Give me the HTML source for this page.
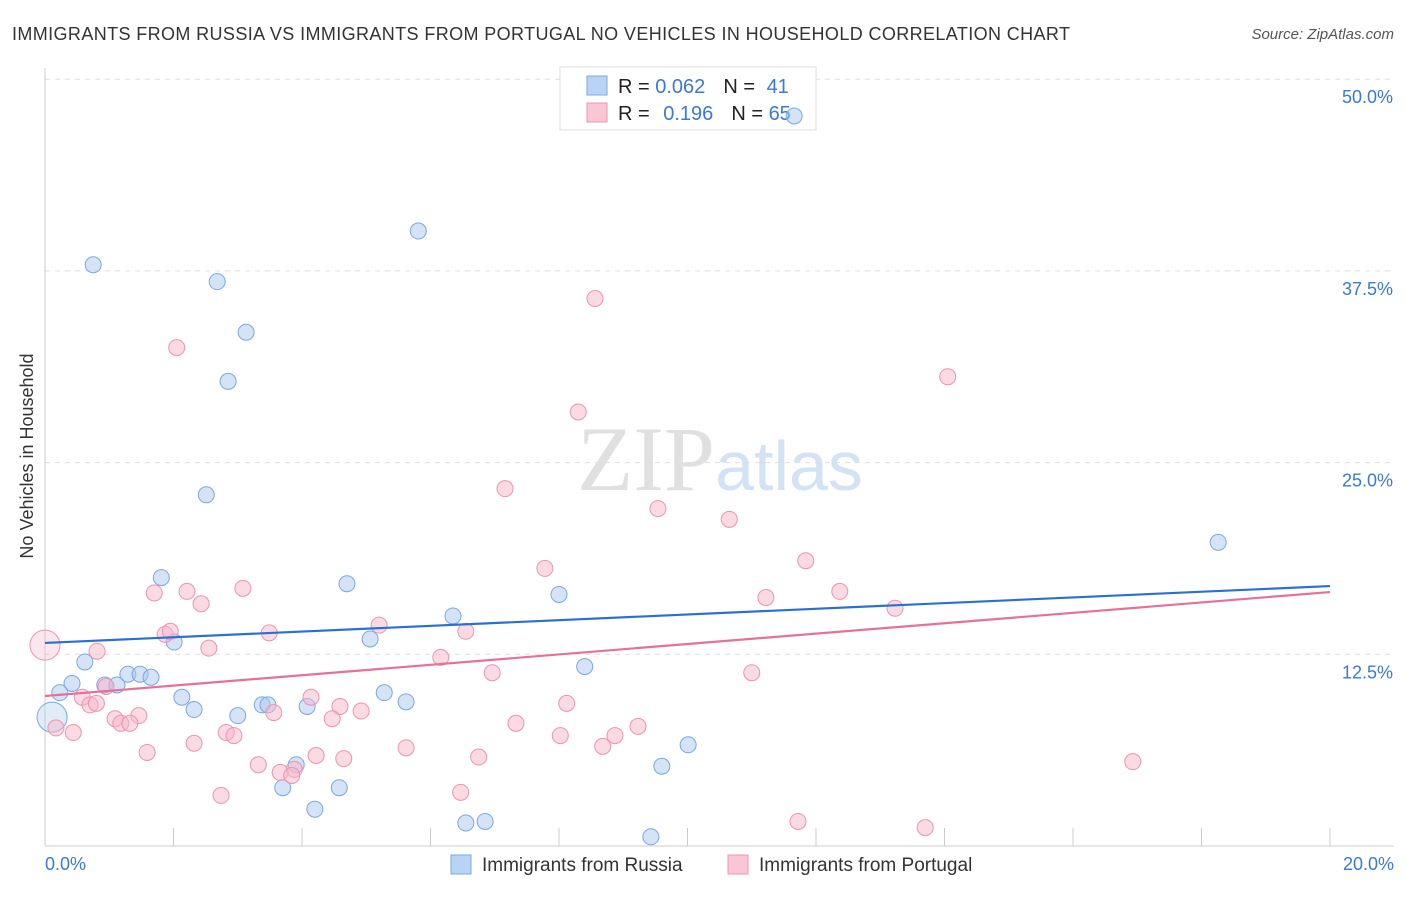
<!DOCTYPE html>
<html><head><meta charset="utf-8"><style>
body{margin:0;background:#fff;font-family:"Liberation Sans",sans-serif;}
svg text{font-family:"Liberation Sans",sans-serif;}
</style></head><body>
<svg id="c" width="1406" height="892">
<text x="12" y="40" font-size="18" fill="#333" textLength="1058">IMMIGRANTS FROM RUSSIA VS IMMIGRANTS FROM PORTUGAL NO VEHICLES IN HOUSEHOLD CORRELATION CHART</text>
<text x="1394" y="39" font-size="15" fill="#555" font-style="italic" text-anchor="end">Source: ZipAtlas.com</text>
<text x="33" y="456" font-size="18" fill="#333" text-anchor="middle" transform="rotate(-90 33 456)">No Vehicles in Household</text>
<text x="720" y="490" font-size="92" text-anchor="middle"><tspan fill="#e0e0e0" font-family="Liberation Serif">ZIP</tspan><tspan fill="#d3e2f4" font-family="Liberation Sans" font-size="70">atlas</tspan></text>
<g id="grid"></g>
<g>
<rect x="560" y="67" width="256" height="63" fill="#fff" stroke="#ddd"/>
<rect x="587" y="76" width="20" height="19" fill="#b8d3f3" stroke="#7aa8e0"/>
<rect x="587" y="103" width="20" height="19" fill="#fac6d5" stroke="#ec94b0"/>
<text x="618" y="93" font-size="20" fill="#222">R = <tspan fill="#3b78d8">0.062</tspan><tspan dx="18">N = </tspan><tspan fill="#3b78d8" dx="6">41</tspan></text>
<text x="618" y="120" font-size="20" fill="#222">R = <tspan fill="#3b78d8" dx="8">0.196</tspan><tspan dx="18">N = </tspan><tspan fill="#3b78d8">65</tspan></text>
</g>
<g id="pts"></g><g id="trend"></g>
<g>
<rect x="451" y="855" width="20" height="19" fill="#b8d3f3" stroke="#7aa8e0"/>
<text x="482" y="871" font-size="19" fill="#333">Immigrants from Russia</text>
<rect x="728" y="855" width="20" height="19" fill="#fac6d5" stroke="#ec94b0"/>
<text x="759" y="871" font-size="19" fill="#333">Immigrants from Portugal</text>
</g>
</svg>
<script>
const yTicks=[12.5,25,37.5,50];
const xTickLabels=["0.0%","20.0%"];
const russiaX=[0.75,2.68,5.81,3.13,2.85,2.51,1.81,4.70,8.00,6.35,5.06,2.01,0.62,8.40,1.29,1.48,1.65,0.42,0.93,1.12,2.13,5.28,2.32,3.38,3.47,4.08,5.62,3.00,0.23,0.11,10.01,3.91,9.60,3.70,4.58,4.20,6.85,6.55,9.43,11.66,18.26];
const russiaY=[37.9,36.8,40.1,33.5,30.3,22.9,17.5,17.1,16.4,15.0,13.5,13.3,12.0,11.7,11.2,11.2,11.0,10.6,10.5,10.5,9.7,10.0,8.9,9.2,9.2,9.1,9.4,8.5,10.0,8.4,6.6,5.3,5.2,3.8,3.8,2.4,1.6,1.5,0.6,47.6,19.8];
const portugalX=[8.56,2.05,14.05,8.30,7.16,9.54,10.65,11.84,7.78,1.70,3.08,2.21,2.43,11.22,12.37,13.23,5.20,6.55,1.87,1.95,3.49,2.55,0.81,6.16,6.96,11.00,0.95,0.58,4.14,0.70,8.12,4.59,4.92,3.56,4.47,1.46,1.09,1.18,1.32,7.33,9.23,2.82,2.94,0.44,0.17,2.32,8.02,8.87,5.62,8.68,1.59,4.22,4.65,6.75,3.32,3.88,3.66,3.84,16.93,6.47,2.74,11.72,13.70,0,0.8];
const portugalY=[35.7,32.5,30.6,28.3,23.3,22.0,21.3,18.6,18.1,16.5,16.8,16.6,15.8,16.2,16.6,15.5,14.4,14.0,13.8,14.0,13.9,12.9,12.7,12.3,11.3,11.3,10.4,9.7,9.7,9.2,9.3,9.1,8.8,8.7,8.3,8.5,8.3,8.0,8.0,8.0,7.8,7.4,7.2,7.4,7.7,6.7,7.2,7.2,6.4,6.5,6.1,5.9,5.7,5.8,5.3,5.0,4.8,4.6,5.5,3.5,3.3,1.6,1.2,13.1,9.3];
const trendRussia=[13.24,16.95];
const trendPortugal=[9.78,16.56];
const NS="http://www.w3.org/2000/svg";
const X=v=>45+v/20*1285, Y=v=>846-v/12.5*191.7;
function mk(t,a,p){const e=document.createElementNS(NS,t);for(const k in a)e.setAttribute(k,a[k]);p.appendChild(e);return e;}
const g=document.getElementById('grid');
yTicks.forEach(t=>{
 const l=mk('line',{x1:45,x2:1394,y1:Y(t),y2:Y(t),stroke:'#ddd','stroke-dasharray':'5,5'},g);
 
 
 const tx=mk('text',{x:1393,y:Y(t)+24,'font-size':18,fill:'#3b78d8','text-anchor':'end'},g);tx.textContent=t.toFixed(1)+'%';
 
 
});
const ax=mk('line',{x1:45,x2:1394,y1:846,y2:846,stroke:'#ccc'},g);


const ay=mk('line',{x1:45,x2:45,y1:68,y2:846,stroke:'#ccc'},g);


for(let i=0;i<=10;i++){const t=mk('line',{x1:X(i*2),x2:X(i*2),y1:828,y2:846,stroke:'#ccc'},g);
 
 }
[[0,'start',45],[20,'end',1394]].forEach((d,i)=>{const t=mk('text',{x:d[2],y:870,'font-size':18,fill:'#3b78d8','text-anchor':d[1]},g);t.textContent=xTickLabels[i];
 
 });
const p=document.getElementById('pts');
function dots(xs,ys,fill,stroke,name,big){xs.forEach((x,i)=>{const b=big.includes(i);const r=b?15:8;
 const c=mk('circle',{cx:X(x),cy:Y(ys[i]),r:r,fill:fill,'fill-opacity':b?0.35:0.5,stroke:stroke,'stroke-width':1},p);
 
 });}
dots(russiaX,russiaY,'#a9c8ee','#7aa8e0','russia-point',[29]);
dots(portugalX,portugalY,'#f7b6ca','#ec94b0','portugal-point',[63]);
const tr=document.getElementById('trend');
const l1=mk('line',{x1:X(0),y1:Y(trendRussia[0]),x2:X(20),y2:Y(trendRussia[1]),stroke:'#2a6fd6','stroke-width':2.2},tr);


const l2=mk('line',{x1:X(0),y1:Y(trendPortugal[0]),x2:X(20),y2:Y(trendPortugal[1]),stroke:'#e5709a','stroke-width':2.2},tr);


</script>
</body></html>
